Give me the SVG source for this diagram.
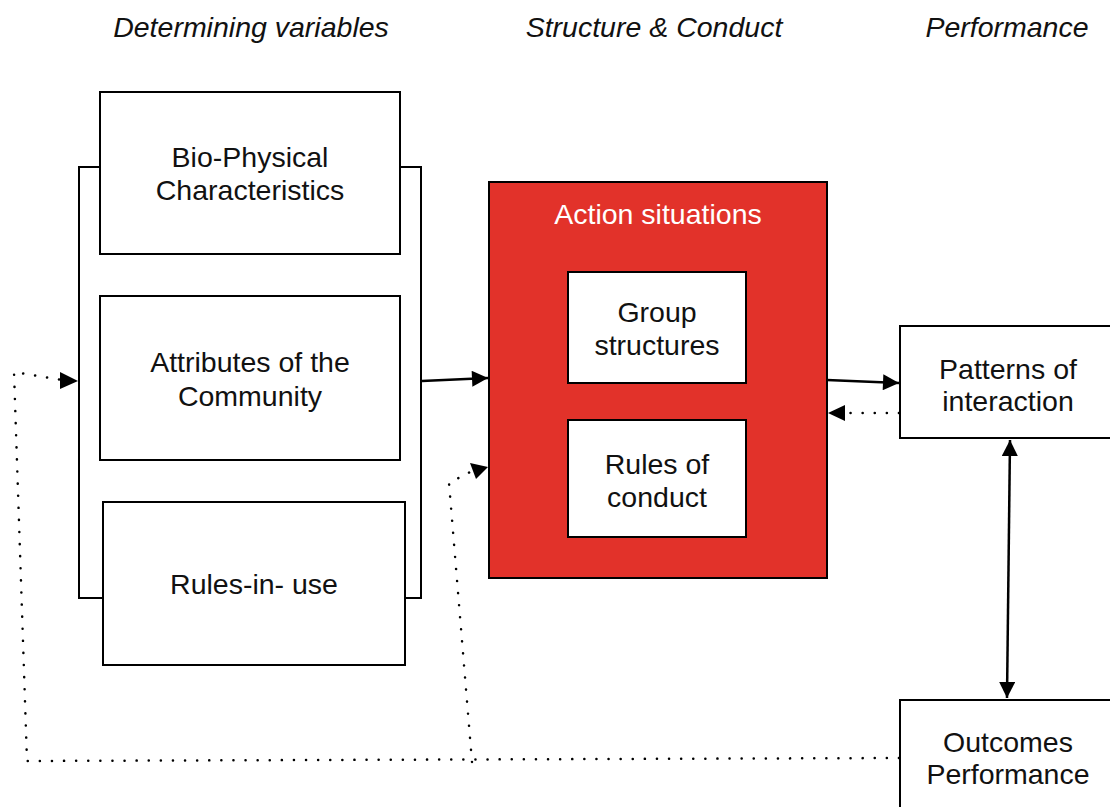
<svg xmlns="http://www.w3.org/2000/svg" width="1110" height="807" viewBox="0 0 1110 807">
<defs>
<style>
.box{fill:#fff;stroke:#000;stroke-width:2}
.t{font-family:"Liberation Sans",Arial,sans-serif;font-size:28.5px;fill:#111;text-anchor:middle}
.h{font-family:"Liberation Sans",Arial,sans-serif;font-size:28.5px;font-style:italic;fill:#111;text-anchor:middle}
.w{fill:#fff}
.ln{fill:none;stroke:#000;stroke-width:2.5}
.dot{fill:none;stroke:#000;stroke-width:2.5;stroke-dasharray:0.1 12;stroke-linecap:round}
</style>
<marker id="a" viewBox="0 0 10 10" refX="10" refY="5" markerWidth="18" markerHeight="16" markerUnits="userSpaceOnUse" orient="auto-start-reverse">
<path d="M0,0 L10,5 L0,10 z" fill="#000"/>
</marker>
</defs>
<rect width="1110" height="807" fill="#fff"/>
<g id="headers">
<text class="h" x="251" y="37">Determining variables</text>
<text class="h" x="654" y="37">Structure &amp; Conduct</text>
<text class="h" x="1007" y="37">Performance</text>
</g>
<g id="bracket">
<path class="box" style="fill:none" d="M100,167 H79 V598 H103 M400,167 H421 V598 H405"/>
</g>
<g id="bio">
<rect class="box" x="100" y="92" width="300" height="162"/>
<text class="t" x="250" y="167">Bio-Physical</text>
<text class="t" x="250" y="200">Characteristics</text>
</g>
<g id="attributes">
<rect class="box" x="100" y="296" width="300" height="164"/>
<text class="t" x="250" y="372">Attributes of the</text>
<text class="t" x="250" y="406">Community</text>
</g>
<g id="rules-in-use">
<rect class="box" x="103" y="502" width="302" height="163"/>
<text class="t" x="254" y="594">Rules-in- use</text>
</g>
<g id="action">
<rect x="489" y="182" width="338" height="396" fill="#e2322a" stroke="#000" stroke-width="2"/>
<text class="t w" x="658" y="224">Action situations</text>
</g>
<g id="group">
<rect class="box" x="568" y="272" width="178" height="111"/>
<text class="t" x="657" y="322">Group</text>
<text class="t" x="657" y="355">structures</text>
</g>
<g id="conduct">
<rect class="box" x="568" y="420" width="178" height="117"/>
<text class="t" x="657" y="474">Rules of</text>
<text class="t" x="657" y="507">conduct</text>
</g>
<g id="patterns">
<rect class="box" x="900" y="326" width="214" height="112"/>
<text class="t" x="1008" y="379">Patterns of</text>
<text class="t" x="1008" y="411">interaction</text>
</g>
<g id="outcomes">
<rect class="box" x="900" y="700" width="214" height="112"/>
<text class="t" x="1008" y="752">Outcomes</text>
<text class="t" x="1008" y="784">Performance</text>
</g>
<g id="connectors">
<line class="ln" x1="422" y1="381" x2="488" y2="378" marker-end="url(#a)"/>
<line class="ln" x1="827" y1="380" x2="899" y2="383" marker-end="url(#a)"/>
<line class="dot" x1="899" y1="413" x2="836" y2="413"/>
<path d="M845,405 L828,413 L845,421 z" fill="#000"/>
<line class="ln" x1="1010" y1="440" x2="1007" y2="698" marker-start="url(#a)" marker-end="url(#a)"/>
<polyline class="dot" points="899,758 27,761 14,372 62,380"/>
<path d="M60,372 L78,381 L60,389 z" fill="#000"/>
<polyline class="dot" points="472,762 449,483 472,471"/>
<path d="M470,463 L488,467 L476,479 z" fill="#000"/>
</g>
</svg>
